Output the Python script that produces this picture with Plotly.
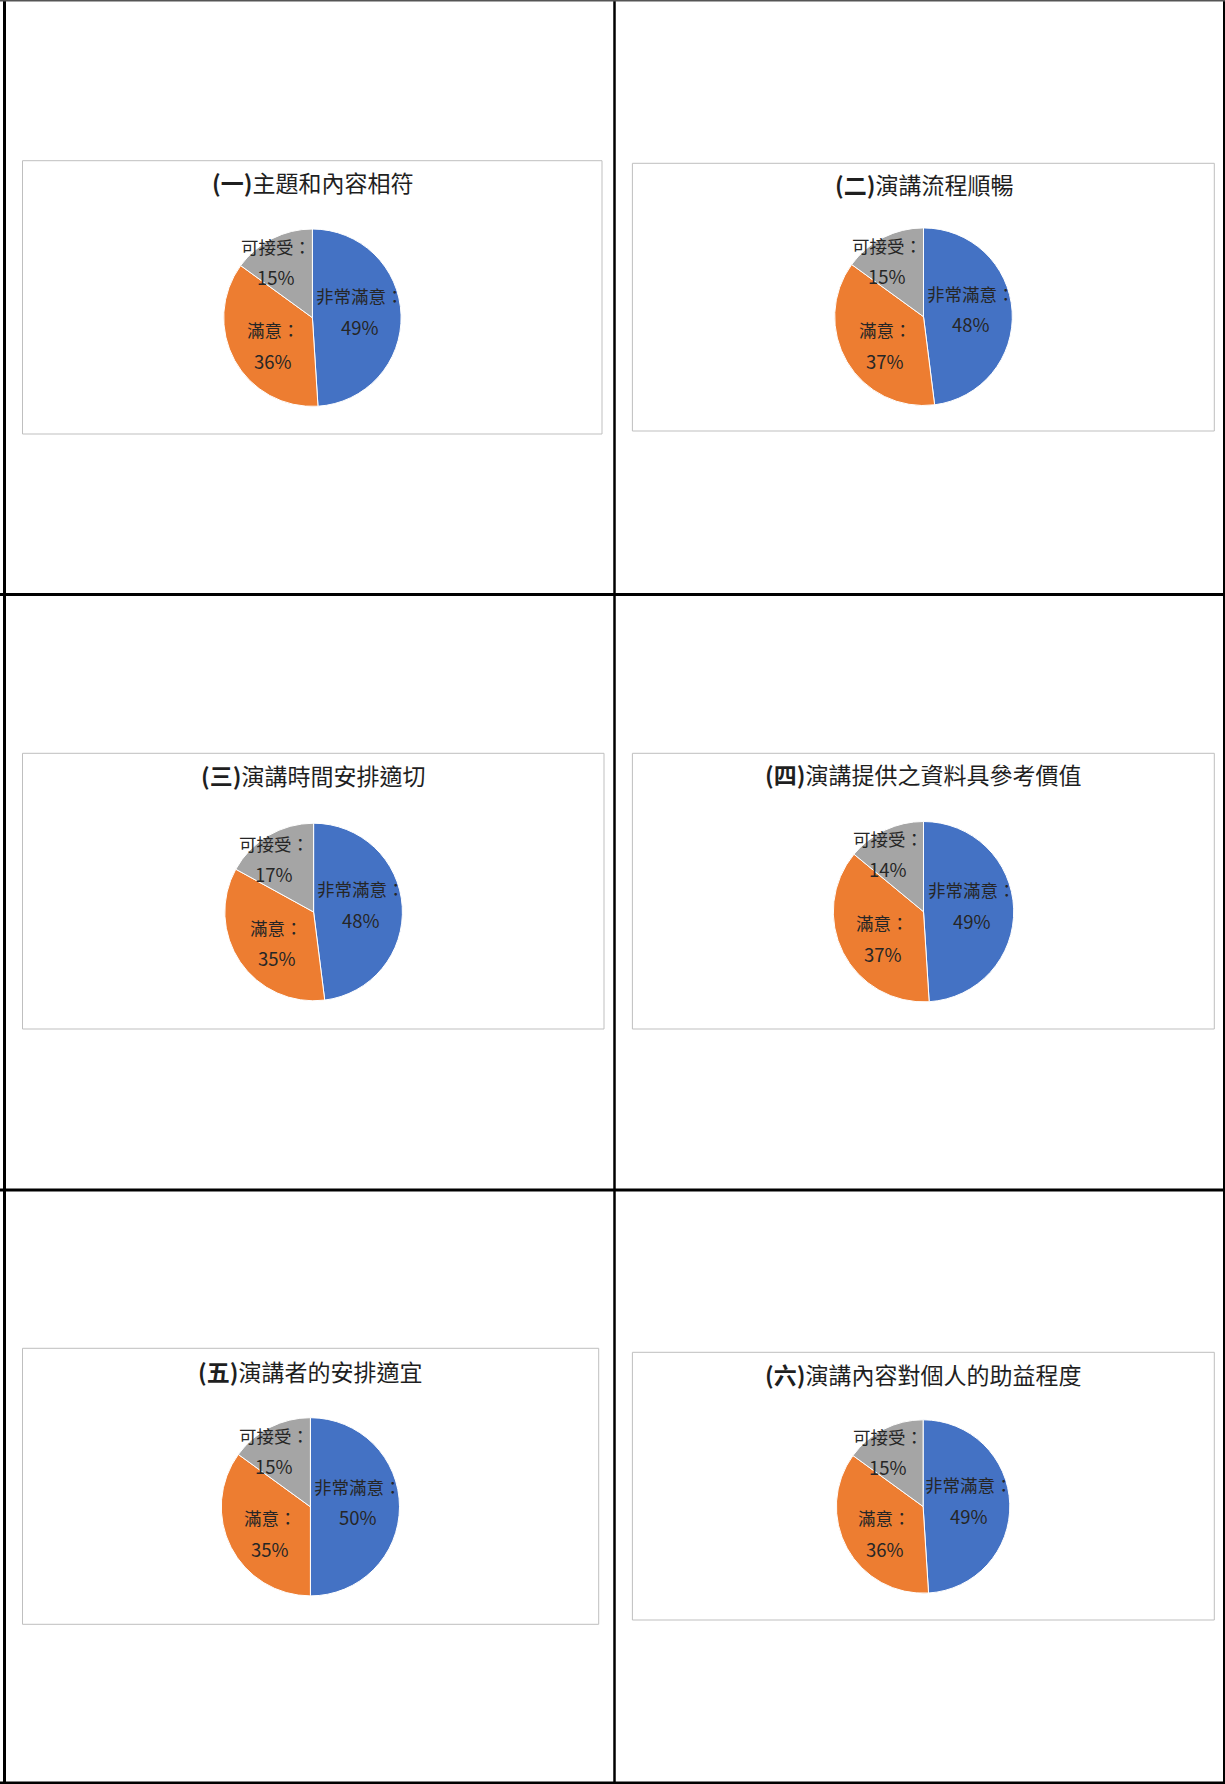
import math
import plotly.graph_objects as go

# ---------------- data ----------------
categories = ["非常滿意", "滿意", "可接受"]
titles = [
    "(一)主題和內容相符",
    "(二)演講流程順暢",
    "(三)演講時間安排適切",
    "(四)演講提供之資料具參考價值",
    "(五)演講者的安排適宜",
    "(六)演講內容對個人的助益程度",
]
very_satisfied = [49, 48, 48, 49, 50, 49]
satisfied = [36, 37, 35, 37, 35, 36]
acceptable = [15, 15, 17, 14, 15, 15]

# ---------------- layout geometry (pixels) ----------------
W, H = 1225, 1784
boxes = [(22.5, 160.7, 602, 434), (632.4, 163.3, 1214.3, 431),
         (22.5, 753.3, 604, 1029), (632.4, 753.3, 1214.3, 1029),
         (22.5, 1348.3, 598.7, 1624.3), (632.4, 1352.3, 1214.3, 1620)]
centers = [(312.4, 317.7), (923.5, 316.7), (313.6, 912), (923.5, 911.7),
           (310.4, 1506.8), (923.1, 1506.5)]
radii = [88.7, 88.8, 88.8, 90.2, 89.1, 86.7]
title_pos = [(312.4, 182.5), (923.5, 184.2), (313.4, 775.2), (922.7, 774.2),
             (310.4, 1370.8), (922.7, 1374.2)]

colors = ["#4472C4", "#ED7D31", "#A5A5A5"]
FONT = "Noto Sans CJK TC"
TITLE_COLOR = "#1f1f1f"
LABEL_COLOR = "#262626"
LABEL_ANGLE_SHIFT = math.radians(-6)


def px(x):
    return x / W


def py(y):
    return 1 - y / H


fig = go.Figure()
shapes = []
annotations = []

for i in range(6):
    vals = [very_satisfied[i], satisfied[i], acceptable[i]]
    cx, cy = centers[i]
    r = radii[i]
    fig.add_trace(go.Pie(
        labels=categories, values=vals, sort=False, direction="clockwise",
        rotation=0, textinfo="none", showlegend=False,
        marker=dict(colors=colors, line=dict(color="white", width=1)),
        domain=dict(x=[px(cx - r), px(cx + r)], y=[py(cy + r), py(cy - r)]),
        hovertemplate="%{label}：%{value}%<extra></extra>",
    ))

    # chart frame
    x0, y0, x1, y1 = boxes[i]
    shapes.append(dict(type="rect", xref="paper", yref="paper",
                       x0=px(x0), x1=px(x1), y0=py(y1), y1=py(y0),
                       line=dict(color="#BFBFBF", width=1), layer="below"))

    # title
    t = titles[i]
    k = t.index(")") + 1
    tx, ty = title_pos[i]
    annotations.append(dict(
        text="<b>" + t[:k] + "</b>" + t[k:], x=px(tx), y=py(ty),
        xref="paper", yref="paper", showarrow=False,
        xanchor="center", yanchor="middle",
        font=dict(family=FONT, size=23, color=TITLE_COLOR)))

    # data labels, placed along each slice's mid-angle
    total = sum(vals)
    cum = 0
    for cat, v in zip(categories, vals):
        mid = 2 * math.pi * (cum + v / 2) / total + LABEL_ANGLE_SHIFT
        cum += v
        frac = 0.54 if v / total >= 0.2 else 0.75
        lx = cx + frac * r * math.sin(mid)
        ly = cy - frac * r * math.cos(mid)
        for line_text, dy, fs in ((cat + "：", -15.5, 17.5), (f"{v}%", 15.5, 18.5)):
            annotations.append(dict(
                text=line_text, x=px(lx), y=py(ly + dy),
                xref="paper", yref="paper", showarrow=False,
                xanchor="center", yanchor="middle",
                font=dict(family=FONT, size=fs, color=LABEL_COLOR)))

# table grid
black = "#000000"
grid = [
    (4.5, 0, 4.5, H, 3, black),          # left border
    (1224, 0, 1224, H, 2, black),        # right border
    (614.5, 0, 614.5, H, 2.5, black),    # middle vertical
    (0, 0.7, W, 0.7, 1.5, "#555555"),    # top border
    (0, 594.5, W, 594.5, 3, black),
    (0, 1190, W, 1190, 3, black),
    (0, 1782.8, W, 1782.8, 2.5, black),  # bottom border
]
for gx0, gy0, gx1, gy1, wdt, col in grid:
    shapes.append(dict(type="line", xref="paper", yref="paper",
                       x0=px(gx0), x1=px(gx1), y0=py(gy0), y1=py(gy1),
                       line=dict(color=col, width=wdt)))

fig.update_layout(
    width=W, height=H, margin=dict(l=0, r=0, t=0, b=0),
    paper_bgcolor="white", plot_bgcolor="white",
    shapes=shapes, annotations=annotations,
    font=dict(family=FONT),
)

fig.write_html(
    "out.html",
    config={"displayModeBar": False},
    post_script="document.body.style.margin='0';"
                "document.body.style.padding='0';"
                "document.body.style.overflow='hidden';",
)
